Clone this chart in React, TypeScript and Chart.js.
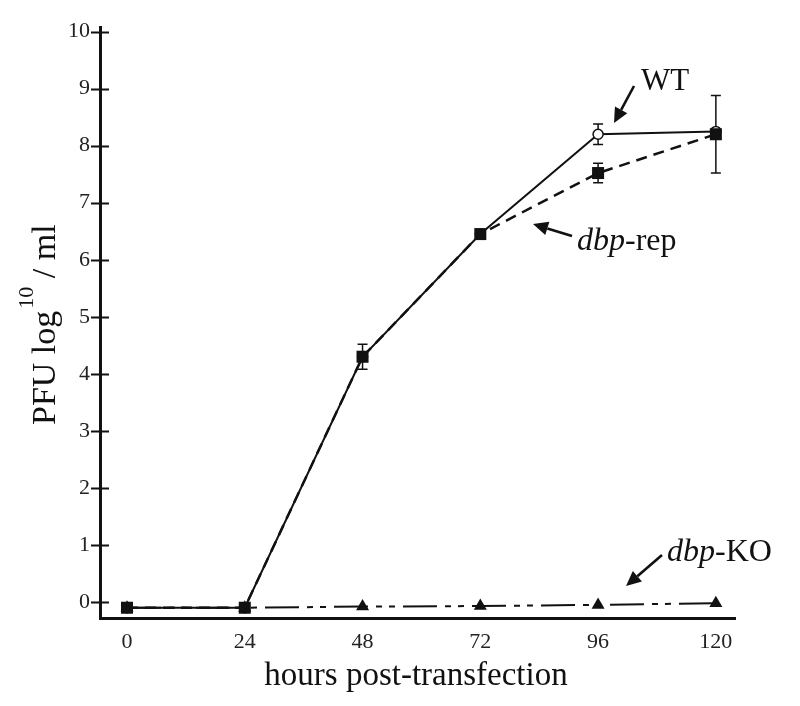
import React, { useEffect, useRef } from "react";
import { Chart, registerables } from "chart.js";

Chart.register(...registerables);

// ---- data ----
const hours = [0, 24, 48, 72, 96, 120];
const xTickValues = [0, 24, 48, 72, 96, 120];
const yTickValues = [0, 1, 2, 3, 4, 5, 6, 7, 8, 9, 10];

const wtValues = [-0.1, -0.1, 4.3, 6.45, 8.2, 8.25];
const wtErr = [0, 0, 0, 0, 0.18, 0];

const repValues = [-0.1, -0.1, 4.3, 6.45, 7.52, 8.2];
const repErr = [0, 0, 0.22, 0.05, 0.17, 0.68];

const koValues = [-0.1, -0.1, -0.08, -0.07, -0.05, -0.02];

const xTitle = "hours post-transfection";
const yTitleMain = "PFU log";
const yTitleSup = "10";
const yTitleEnd = " / ml";

const SERIF = '"Liberation Serif", "Times New Roman", serif';

function arrow(ctx: CanvasRenderingContext2D, x1: number, y1: number, x2: number, y2: number) {
  const ang = Math.atan2(y2 - y1, x2 - x1);
  const headLen = 15;
  const headW = 7;
  const bx = x2 - Math.cos(ang) * headLen;
  const by = y2 - Math.sin(ang) * headLen;
  ctx.save();
  ctx.strokeStyle = "#111";
  ctx.fillStyle = "#111";
  ctx.lineWidth = 2.6;
  ctx.beginPath();
  ctx.moveTo(x1, y1);
  ctx.lineTo(bx, by);
  ctx.stroke();
  ctx.beginPath();
  ctx.moveTo(x2, y2);
  ctx.lineTo(bx + Math.sin(ang) * headW, by - Math.cos(ang) * headW);
  ctx.lineTo(bx - Math.sin(ang) * headW, by + Math.cos(ang) * headW);
  ctx.closePath();
  ctx.fill();
  ctx.restore();
}

const decorPlugin = {
  id: "decor",
  beforeDatasetsDraw(chart: any) {
    const ctx = chart.ctx as CanvasRenderingContext2D;
    const xs = chart.scales.x;
    const ys = chart.scales.y;
    ctx.save();
    ctx.strokeStyle = "#111";
    ctx.lineWidth = 1.5;
    const drawErr = (vals: number[], errs: number[]) => {
      vals.forEach((v, i) => {
        const e = errs[i];
        if (!e) return;
        const x = xs.getPixelForValue(hours[i]);
        const yt = ys.getPixelForValue(v + e);
        const yb = ys.getPixelForValue(v - e);
        ctx.beginPath();
        ctx.moveTo(x, yt);
        ctx.lineTo(x, yb);
        ctx.moveTo(x - 5, yt);
        ctx.lineTo(x + 5, yt);
        ctx.moveTo(x - 5, yb);
        ctx.lineTo(x + 5, yb);
        ctx.stroke();
      });
    };
    drawErr(wtValues, wtErr);
    drawErr(repValues, repErr);
    ctx.restore();
  },
  afterDraw(chart: any) {
    const ctx = chart.ctx as CanvasRenderingContext2D;
    const ys = chart.scales.y;
    const area = chart.chartArea;
    ctx.save();
    // crossing y tick marks
    ctx.strokeStyle = "#111";
    ctx.lineWidth = 2;
    yTickValues.forEach((v) => {
      const y = Math.round(ys.getPixelForValue(v)) + 0.5;
      ctx.beginPath();
      ctx.moveTo(area.left - 9, y);
      ctx.lineTo(area.left + 9, y);
      ctx.stroke();
    });

    // x title
    ctx.fillStyle = "#111";
    ctx.font = `33px ${SERIF}`;
    ctx.textAlign = "center";
    ctx.textBaseline = "alphabetic";
    ctx.fillText(xTitle, 416, 685);

    // y title (rotated)
    ctx.save();
    ctx.translate(55, 425);
    ctx.rotate(-Math.PI / 2);
    ctx.textAlign = "left";
    ctx.font = `34px ${SERIF}`;
    ctx.fillText(yTitleMain, 0, 0);
    let w = ctx.measureText(yTitleMain).width;
    ctx.font = `22px ${SERIF}`;
    ctx.fillText(yTitleSup, w + 2, -22);
    w += ctx.measureText(yTitleSup).width + 2;
    ctx.font = `34px ${SERIF}`;
    ctx.fillText(yTitleEnd, w, 0);
    ctx.restore();

    // annotations
    ctx.textAlign = "left";
    ctx.font = `31px ${SERIF}`;
    ctx.fillText("WT", 641, 90);
    arrow(ctx, 634, 86, 614, 123);

    const rich = (x: number, y: number, it: string, rest: string) => {
      ctx.font = `italic 32px ${SERIF}`;
      ctx.fillText(it, x, y);
      const w1 = ctx.measureText(it).width;
      ctx.font = `32px ${SERIF}`;
      ctx.fillText(rest, x + w1, y);
    };
    rich(577, 250, "dbp", "-rep");
    arrow(ctx, 572, 236, 533, 224);

    rich(667, 561, "dbp", "-KO");
    arrow(ctx, 662, 555, 626, 586);

    ctx.restore();
  },
};

export default function App() {
  const ref = useRef<HTMLCanvasElement>(null);
  useEffect(() => {
    document.body.style.margin = "0";
    const canvas = ref.current;
    if (!canvas) return;
    const chart = new Chart(canvas, {
      type: "line",
      data: {
        datasets: [
          {
            label: "dbp-rep",
            data: hours.map((h, i) => ({ x: h, y: repValues[i] })),
            borderColor: "#111",
            borderWidth: 2.5,
            borderDash: [11, 7],
            pointStyle: "rect",
            pointRadius: 8.5,
            pointBackgroundColor: "#111",
            pointBorderColor: "#111",
            pointBorderWidth: 0,
            tension: 0,
            order: 0,
          },
          {
            label: "WT",
            data: hours.map((h, i) => ({ x: h, y: wtValues[i] })),
            borderColor: "#111",
            borderWidth: 2,
            pointStyle: "circle",
            pointRadius: 5,
            pointBackgroundColor: "#fff",
            pointBorderColor: "#111",
            pointBorderWidth: 1.5,
            tension: 0,
            order: 1,
          },
          {
            label: "dbp-KO",
            data: hours.map((h, i) => ({ x: h, y: koValues[i] })),
            borderColor: "#111",
            borderWidth: 2,
            borderDash: [34, 8, 6, 7, 6, 8],
            pointStyle: "triangle",
            pointRadius: 7.5,
            pointBackgroundColor: "#111",
            pointBorderColor: "#111",
            pointBorderWidth: 0,
            tension: 0,
            order: 2,
          },
        ],
      },
      plugins: [decorPlugin],
      options: {
        animation: false,
        responsive: false,
        layout: { padding: { top: 27, right: 65, left: 0, bottom: 0 } },
        plugins: {
          legend: { display: false },
          tooltip: { enabled: false },
        },
        scales: {
          x: {
            type: "linear",
            min: -5.5,
            max: 123.9,
            afterBuildTicks: (s: any) => {
              s.ticks = xTickValues.map((v) => ({ value: v }));
            },
            afterFit: (s: any) => {
              s.height = 88;
            },
            grid: { display: false, drawTicks: false },
            border: { display: true, color: "#111", width: 3 },
            ticks: {
              padding: 11,
              autoSkip: false,
              maxRotation: 0,
              color: "#222",
              font: { family: SERIF, size: 22 },
            },
          },
          y: {
            type: "linear",
            min: -0.28,
            max: 10.08,
            afterBuildTicks: (s: any) => {
              s.ticks = yTickValues.map((v) => ({ value: v }));
            },
            afterFit: (s: any) => {
              s.width = 100;
            },
            grid: { display: false, drawTicks: false },
            border: { display: true, color: "#111", width: 3 },
            ticks: {
              padding: 10,
              color: "#222",
              font: { family: SERIF, size: 22 },
            },
          },
        },
      },
    } as any);
    return () => chart.destroy();
  }, []);
  return (
    <div style={{ width: 800, height: 706 }}>
      <canvas ref={ref} width={800} height={706} style={{ display: "block" }} />
    </div>
  );
}
